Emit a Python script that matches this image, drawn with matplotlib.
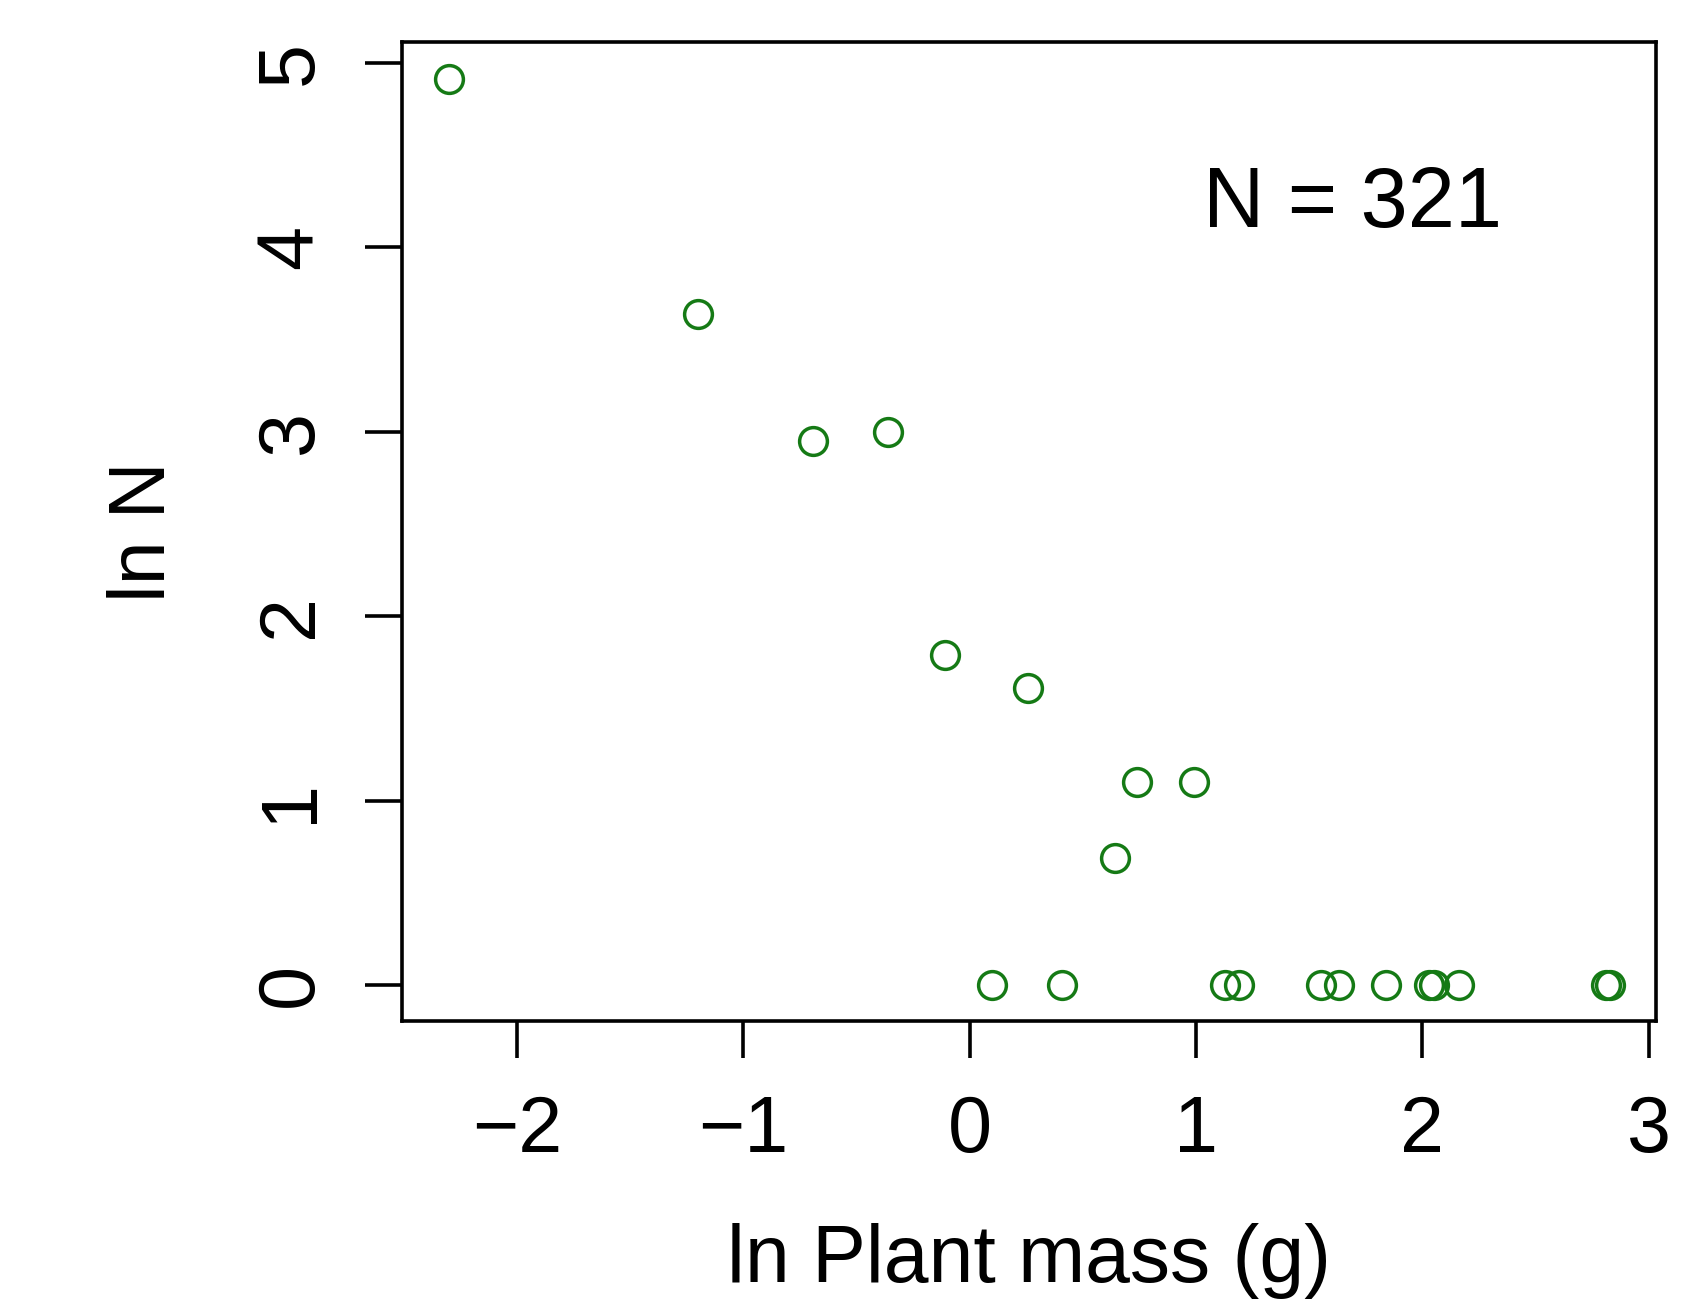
import matplotlib
matplotlib.use("Agg")
import matplotlib.pyplot as plt

# ln plant mass (g) and ln N
ln_mass = [-2.30, -1.20, -0.69, -0.36, -0.11, 0.26, 0.74, 0.99, 0.64,
           0.10, 0.41, 1.13, 1.19, 1.55, 1.63, 1.84, 2.03, 2.05, 2.16,
           2.81, 2.83]
ln_n = [4.91, 3.64, 2.95, 3.00, 1.79, 1.61, 1.10, 1.10, 0.69,
        0, 0, 0, 0, 0, 0, 0, 0, 0, 0,
        0, 0]

x_ticks = [-2, -1, 0, 1, 2, 3]
y_ticks = [0, 1, 2, 3, 4, 5]
annotation = "N = 321"

plt.rcParams["font.family"] = ["Liberation Sans", "DejaVu Sans"]

fig = plt.figure(figsize=(16.93, 13), dpi=100)
ax = fig.add_axes([0.2373, 0.2146, 0.7409, 0.7528])

ax.plot(ln_mass, ln_n, linestyle="none", marker="o", markersize=20,
        markerfacecolor="none", markeredgecolor="#157a15",
        markeredgewidth=2.5)

ax.set_xlim(-2.508, 3.032)
ax.set_ylim(-0.195, 5.11)
ax.set_xticks(x_ticks)
ax.set_yticks(y_ticks)

for side in ax.spines.values():
    side.set_linewidth(2.6)
    side.set_color("black")

ax.tick_params(axis="both", direction="out", length=26.5, width=2.6,
               labelsize=57, color="black")
ax.tick_params(axis="x", pad=26)
ax.tick_params(axis="y", pad=26)
for lab in ax.get_yticklabels():
    lab.set_rotation(90)
    lab.set_va("center")

ax.set_xlabel("ln Plant mass (g)", fontsize=58)
ax.xaxis.label.set_va("baseline")
ax.xaxis.set_label_coords(0.5, -0.2667)

ax.set_ylabel("ln N", fontsize=57)
ax.yaxis.label.set_va("baseline")
ax.yaxis.label.set_ha("center")
ax.yaxis.set_label_coords(-0.1887, 0.5)

ax.text(0.758, 0.834, annotation, transform=ax.transAxes, fontsize=61,
        ha="center", va="center")

fig.savefig("out.png", dpi=100)
